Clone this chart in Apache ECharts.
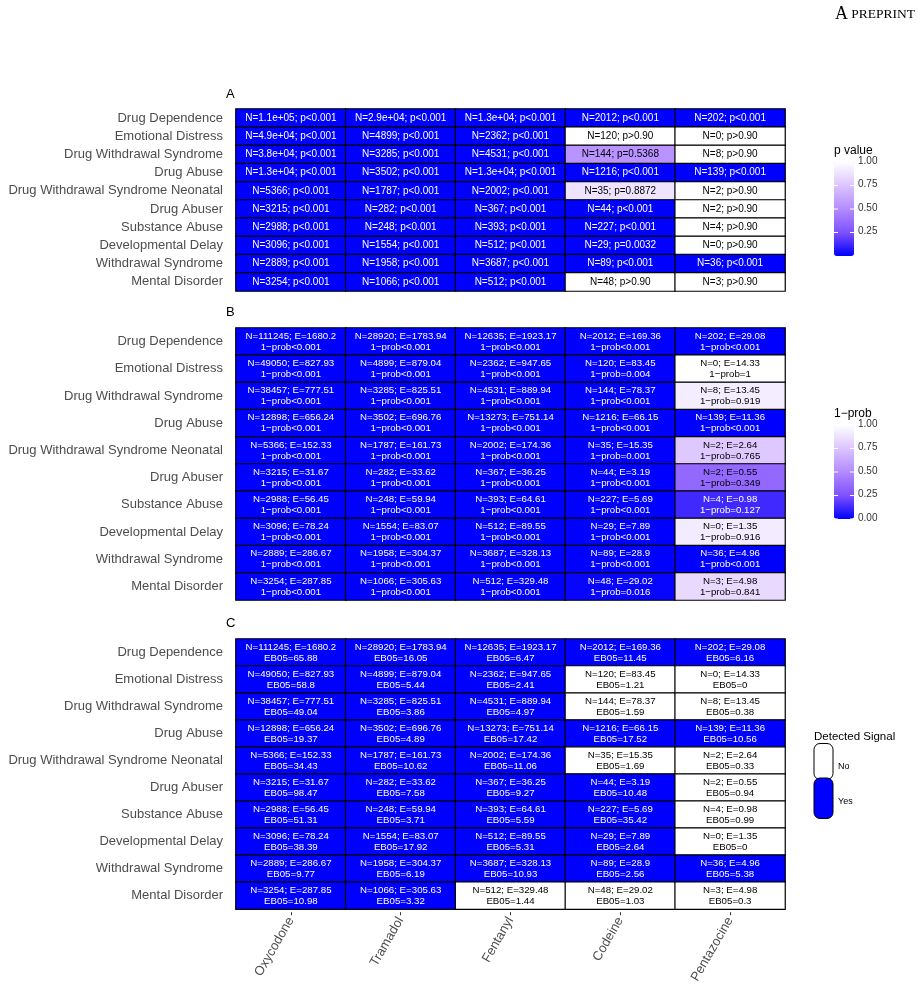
<!DOCTYPE html>
<html>
<head>
<meta charset="utf-8">
<script src="https://cdn.jsdelivr.net/npm/echarts@6/dist/echarts.min.js"></script>
<style>
html, body { margin: 0; padding: 0; background: #fff; }
#chart { width: 922px; height: 986px; }
</style>
</head>
<body>
<div id="chart"></div>
<script>
// columns (drugs) and rows (adverse events), top to bottom
var drugs = ['Oxycodone', 'Tramadol', 'Fentanyl', 'Codeine', 'Pentazocine'];
var events = ['Drug Dependence', 'Emotional Distress', 'Drug Withdrawal Syndrome', 'Drug Abuse',
    'Drug Withdrawal Syndrome Neonatal', 'Drug Abuser', 'Substance Abuse', 'Developmental Delay',
    'Withdrawal Syndrome', 'Mental Disorder'];

// one inner array per drug, in the events order
var countN = [
    [111245, 49050, 38457, 12898, 5366, 3215, 2988, 3096, 2889, 3254],
    [28920, 4899, 3285, 3502, 1787, 282, 248, 1554, 1958, 1066],
    [12635, 2362, 4531, 13273, 2002, 367, 393, 512, 3687, 512],
    [2012, 120, 144, 1216, 35, 44, 227, 29, 89, 48],
    [202, 0, 8, 139, 2, 2, 4, 0, 36, 3]
];
var expectedE = [
    [1680.2, 827.93, 777.51, 656.24, 152.33, 31.67, 56.45, 78.24, 286.67, 287.85],
    [1783.94, 879.04, 825.51, 696.76, 161.73, 33.62, 59.94, 83.07, 304.37, 305.63],
    [1923.17, 947.65, 889.94, 751.14, 174.36, 36.25, 64.61, 89.55, 328.13, 329.48],
    [169.36, 83.45, 78.37, 66.15, 15.35, 3.19, 5.69, 7.89, 28.9, 29.02],
    [29.08, 14.33, 13.45, 11.36, 2.64, 0.55, 0.98, 1.35, 4.96, 4.98]
];
// 0 = "<0.001", 1 = ">0.90"
var pValue = [
    [0, 0, 0, 0, 0, 0, 0, 0, 0, 0],
    [0, 0, 0, 0, 0, 0, 0, 0, 0, 0],
    [0, 0, 0, 0, 0, 0, 0, 0, 0, 0],
    [0, 1, 0.5368, 0, 0.8872, 0, 0, 0.0032, 0, 1],
    [0, 1, 1, 0, 1, 1, 1, 1, 0, 1]
];
// 0 = "<0.001"
var oneMinusProb = [
    [0, 0, 0, 0, 0, 0, 0, 0, 0, 0],
    [0, 0, 0, 0, 0, 0, 0, 0, 0, 0],
    [0, 0, 0, 0, 0, 0, 0, 0, 0, 0],
    [0, 0.004, 0, 0, 0.001, 0, 0, 0, 0, 0.016],
    [0, 1, 0.919, 0, 0.765, 0.349, 0.127, 0.916, 0, 0.841]
];
var eb05 = [
    [65.88, 58.8, 49.04, 19.37, 34.43, 98.47, 51.31, 38.39, 9.77, 10.98],
    [16.05, 5.44, 3.86, 4.89, 10.62, 7.58, 3.71, 17.92, 6.19, 3.32],
    [6.47, 2.41, 4.97, 17.42, 11.06, 9.27, 5.59, 5.31, 10.93, 1.44],
    [11.45, 1.21, 1.59, 17.52, 1.69, 10.48, 35.42, 2.64, 2.56, 1.03],
    [6.16, 0, 0.38, 10.56, 0.33, 0.94, 0.99, 0, 5.38, 0.3]
];
// 1 = Yes, 0 = No
var detected = [
    [1, 1, 1, 1, 1, 1, 1, 1, 1, 1],
    [1, 1, 1, 1, 1, 1, 1, 1, 1, 1],
    [1, 1, 1, 1, 1, 1, 1, 1, 1, 0],
    [1, 0, 0, 1, 0, 1, 1, 1, 1, 0],
    [1, 0, 0, 1, 0, 0, 0, 0, 1, 0]
];
var barTicks = [0, 0.25, 0.5, 0.75, 1];

var blueWhite = ['#0000ff', '#7e51ff', '#b38bff', '#dcc4ff', '#ffffff'];
var MINUS = '\u2212';
var FONT = 'Liberation Sans, Arial, sans-serif';

function fmtN(n) {
    if (n >= 10000) {
        return n.toExponential(1).replace(/e\+(\d)$/, 'e+0$1');
    }
    return String(n);
}
function fmtP(p) {
    if (p < 0.001) return 'p<0.001';
    if (p > 0.9) return 'p>0.90';
    return 'p=' + p;
}
function fmtProb(v) {
    if (v < 0.001) return '1' + MINUS + 'prob<0.001';
    return '1' + MINUS + 'prob=' + v;
}

function cells(values, labelFn, whiteFn) {
    var out = [];
    drugs.forEach(function (d, i) {
        events.forEach(function (e, j) {
            var v = values[i][j];
            out.push({
                value: [i, j, v],
                label: { formatter: labelFn(i, j), color: whiteFn(v) ? '#fff' : '#000' }
            });
        });
    });
    return out;
}

var dataA = cells(pValue, function (i, j) {
    return 'N=' + fmtN(countN[i][j]) + '; ' + fmtP(pValue[i][j]);
}, function (v) { return v < 0.2; });

var dataB = cells(oneMinusProb, function (i, j) {
    return 'N=' + countN[i][j] + '; E=' + expectedE[i][j] + '\n' + fmtProb(oneMinusProb[i][j]);
}, function (v) { return v < 0.2; });

var dataC = cells(detected, function (i, j) {
    return 'N=' + countN[i][j] + '; E=' + expectedE[i][j] + '\nEB05=' + eb05[i][j];
}, function (v) { return v === 1; });

var grids = [
    { left: 236, top: 109, width: 549, height: 182 },
    { left: 236, top: 328, width: 549, height: 272 },
    { left: 236, top: 639, width: 549, height: 271 }
];

function xAxisFor(g, showLabels) {
    return {
        type: 'category', gridIndex: g, data: drugs, offset: 3,
        axisLine: { show: false },
        axisTick: { show: showLabels, alignWithLabel: true, length: 3, interval: 0, lineStyle: { color: '#333' } },
        axisLabel: { show: showLabels, rotate: 60, margin: 6, interval: 0, fontSize: 13, color: '#4d4d4d', fontFamily: FONT },
        splitLine: { show: false }
    };
}
function yAxisFor(g) {
    return {
        type: 'category', gridIndex: g, data: events, inverse: true, offset: 11,
        axisLine: { show: false },
        axisTick: { alignWithLabel: true, length: 4, interval: 0, lineStyle: { color: '#333' } },
        axisLabel: { margin: 2, interval: 0, fontSize: 13, color: '#4d4d4d', fontFamily: FONT },
        splitLine: { show: false }
    };
}

function heat(idx, data, size) {
    return {
        type: 'heatmap', xAxisIndex: idx, yAxisIndex: idx, data: data,
        label: { show: true, fontSize: size, lineHeight: 11, fontFamily: FONT },
        itemStyle: { borderColor: '#000', borderWidth: 1.2 },
        emphasis: { disabled: true }
    };
}

// colour bar legend decorations (labels and white ticks)
function barLegend(title, top, labels) {
    var els = [{
        type: 'text', left: 834, top: top - 17,
        style: { text: title, fontSize: 12, fill: '#000', fontFamily: FONT }
    }];
    labels.forEach(function (v) {
        var y = top + (1 - v) * 94;
        els.push({ type: 'text', left: 858, top: y - 6,
            style: { text: v.toFixed(2), fontSize: 10, fill: '#333', fontFamily: FONT } });
        els.push({ type: 'line', shape: { x1: 834, y1: y, x2: 838, y2: y }, style: { stroke: '#fff', lineWidth: 1 }, z: 100 });
        els.push({ type: 'line', shape: { x1: 850, y1: y, x2: 854, y2: y }, style: { stroke: '#fff', lineWidth: 1 }, z: 100 });
    });
    return els;
}

var graphics = [
    { type: 'text', right: 7, top: 5,
      style: { text: '{a|A} {b|PREPRINT}', rich: {
          a: { fontSize: 18, fontFamily: 'Liberation Serif, serif', fill: '#000' },
          b: { fontSize: 13.5, fontFamily: 'Liberation Serif, serif', fill: '#000' } } } },
    { type: 'text', left: 226, top: 88, style: { text: 'A', fontSize: 13, fill: '#000', fontFamily: FONT } },
    { type: 'text', left: 226, top: 306, style: { text: 'B', fontSize: 13, fill: '#000', fontFamily: FONT } },
    { type: 'text', left: 226, top: 617, style: { text: 'C', fontSize: 13, fill: '#000', fontFamily: FONT } },
    { type: 'text', left: 814, top: 731, style: { text: 'Detected Signal', fontSize: 11.5, fill: '#000', fontFamily: FONT } },
    { type: 'rect', shape: { x: 814, y: 743.5, width: 19, height: 36, r: 6 }, style: { fill: '#fff', stroke: '#000', lineWidth: 1 } },
    { type: 'rect', shape: { x: 814, y: 778, width: 19, height: 40.5, r: 6 }, style: { fill: '#0000ff', stroke: '#000', lineWidth: 1 } },
    { type: 'text', left: 838, top: 762, style: { text: 'No', fontSize: 9, fill: '#000', fontFamily: FONT } },
    { type: 'text', left: 838, top: 797, style: { text: 'Yes', fontSize: 9, fill: '#000', fontFamily: FONT } }
].concat(barLegend('p value', 162, barTicks.slice(1)))
 .concat(barLegend('1' + MINUS + 'prob', 425, barTicks));

var option = {
    backgroundColor: '#fff',
    animation: false,
    textStyle: { fontFamily: FONT },
    grid: grids,
    xAxis: [xAxisFor(0, false), xAxisFor(1, false), xAxisFor(2, true)],
    yAxis: [yAxisFor(0), yAxisFor(1), yAxisFor(2)],
    visualMap: [
        { type: 'continuous', seriesIndex: 0, min: 0, max: 1, inRange: { color: blueWhite },
          left: 834, top: 162, itemWidth: 20, itemHeight: 94, padding: 0, calculable: false,
          text: null, showLabel: false, hoverLink: false },
        { type: 'continuous', seriesIndex: 1, min: 0, max: 1, inRange: { color: blueWhite },
          left: 834, top: 425, itemWidth: 20, itemHeight: 94, padding: 0, calculable: false,
          text: null, showLabel: false, hoverLink: false },
        { type: 'piecewise', seriesIndex: 2, show: false,
          pieces: [{ value: 0, color: '#ffffff' }, { value: 1, color: '#0000ff' }] }
    ],
    series: [heat(0, dataA, 10), heat(1, dataB, 9.7), heat(2, dataC, 9.7)],
    graphic: graphics
};

var chart = echarts.init(document.getElementById('chart'));
chart.setOption(option);
</script>
</body>
</html>
